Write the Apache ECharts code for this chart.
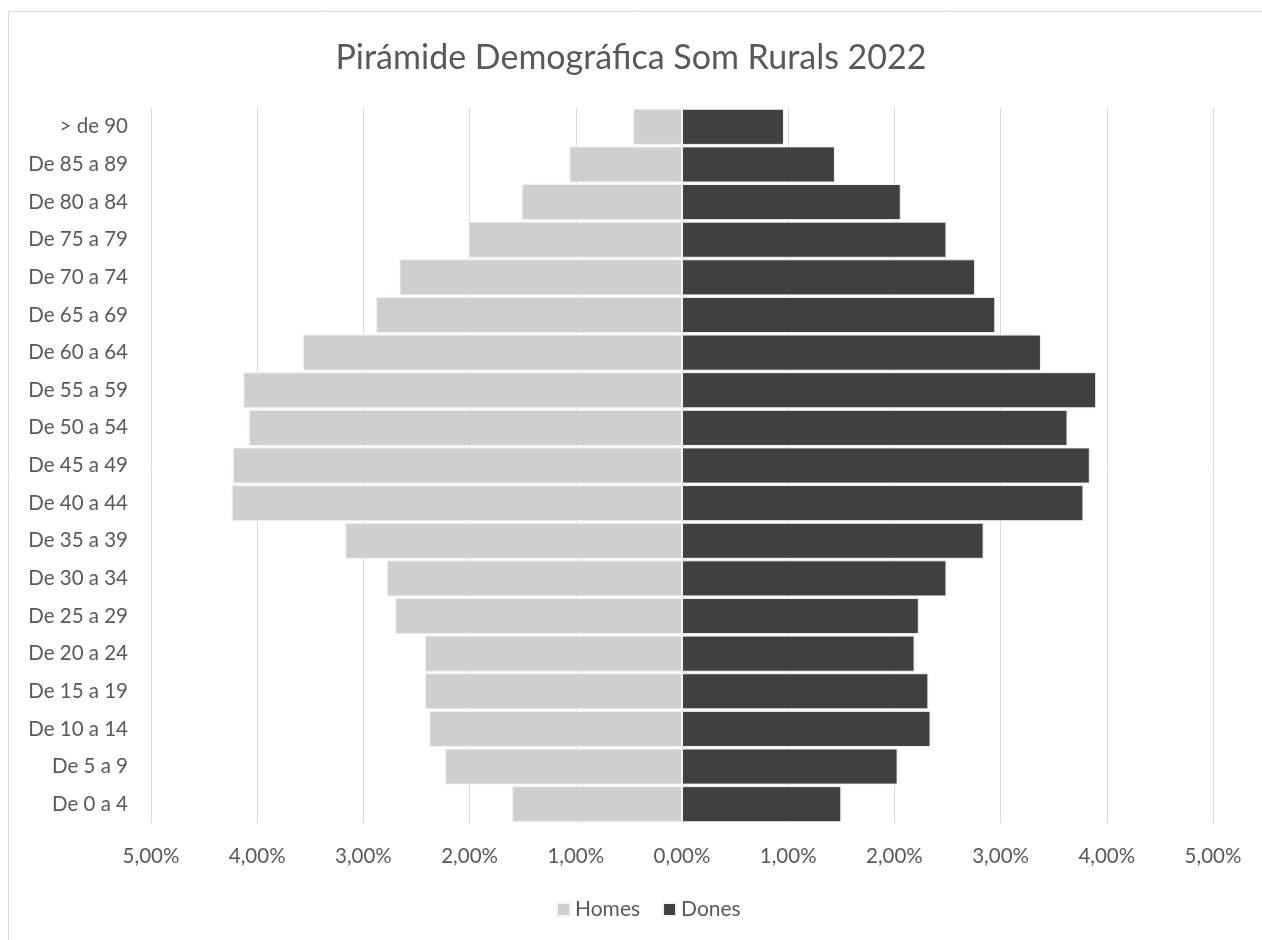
<!DOCTYPE html>
<html>
<head>
<meta charset="utf-8">
<script src="https://cdn.jsdelivr.net/npm/echarts@6/dist/echarts.min.js"></script>
<style>
  html, body { margin: 0; padding: 0; background: #ffffff; }
  #chart { width: 1262px; height: 940px; }
</style>
</head>
<body>
<div id="chart"></div>
<script>
const categories = ['De 0 a 4','De 5 a 9','De 10 a 14','De 15 a 19','De 20 a 24','De 25 a 29','De 30 a 34','De 35 a 39','De 40 a 44','De 45 a 49','De 50 a 54','De 55 a 59','De 60 a 64','De 65 a 69','De 70 a 74','De 75 a 79','De 80 a 84','De 85 a 89','> de 90'];
const homes = [1.60, 2.23, 2.38, 2.42, 2.42, 2.70, 2.78, 3.17, 4.24, 4.23, 4.08, 4.13, 3.57, 2.88, 2.66, 2.01, 1.51, 1.06, 0.46];
const dones = [1.50, 2.03, 2.34, 2.32, 2.19, 2.23, 2.49, 2.84, 3.78, 3.84, 3.63, 3.90, 3.38, 2.95, 2.76, 2.49, 2.06, 1.44, 0.96];
const xTicks = [-5, -4, -3, -2, -1, 0, 1, 2, 3, 4, 5];

const chart = echarts.init(document.getElementById('chart'));
const font = 'Lato, "Open Sans", sans-serif';
chart.setOption({
  backgroundColor: '#ffffff',
  animation: false,
  textStyle: { fontFamily: font },
  graphic: [{
    type: 'rect', z: -10, silent: true,
    shape: { x: 8.5, y: 11.5, width: 1400, height: 1100 },
    style: { fill: 'none', stroke: '#d9d9d9', lineWidth: 1 }
  }],
  title: {
    text: 'Pirámide Demográfica Som Rurals 2022',
    left: 'center', top: 36,
    textStyle: { fontFamily: font, fontSize: 34, fontWeight: 'normal', color: '#595959' }
  },
  legend: {
    bottom: 15, left: 551,
    icon: 'rect', itemWidth: 13, itemHeight: 13, itemGap: 22, itemTextGap: 7,
    textStyle: { fontFamily: font, fontSize: 21, color: '#595959' },
    data: ['Homes', 'Dones']
  },
  grid: { left: 151, right: 49, top: 108, bottom: 117, containLabel: false },
  xAxis: {
    type: 'value', min: xTicks[0], max: xTicks[xTicks.length - 1], interval: 1,
    axisLine: { show: false }, axisTick: { show: false },
    splitLine: { show: true, lineStyle: { color: '#d9d9d9', width: 1 } },
    axisLabel: {
      margin: 23, fontFamily: font, fontSize: 20.5, color: '#595959',
      formatter: v => Math.abs(v).toFixed(2).replace('.', ',') + '%'
    }
  },
  yAxis: {
    type: 'category', data: categories,
    axisLine: { show: false }, axisTick: { show: false },
    axisLabel: { margin: 23, fontFamily: font, fontSize: 20.5, color: '#595959' }
  },
  series: [
    {
      name: 'Homes', type: 'bar', stack: 'p', barCategoryGap: '4%',
      data: homes.map(v => -v),
      itemStyle: { color: '#d0cece', borderColor: '#f2f2f2', borderWidth: 1 }
    },
    {
      name: 'Dones', type: 'bar', stack: 'p', barCategoryGap: '4%',
      data: dones,
      itemStyle: { color: '#404040', borderColor: '#f2f2f2', borderWidth: 1 }
    }
  ]
});
</script>
</body>
</html>
